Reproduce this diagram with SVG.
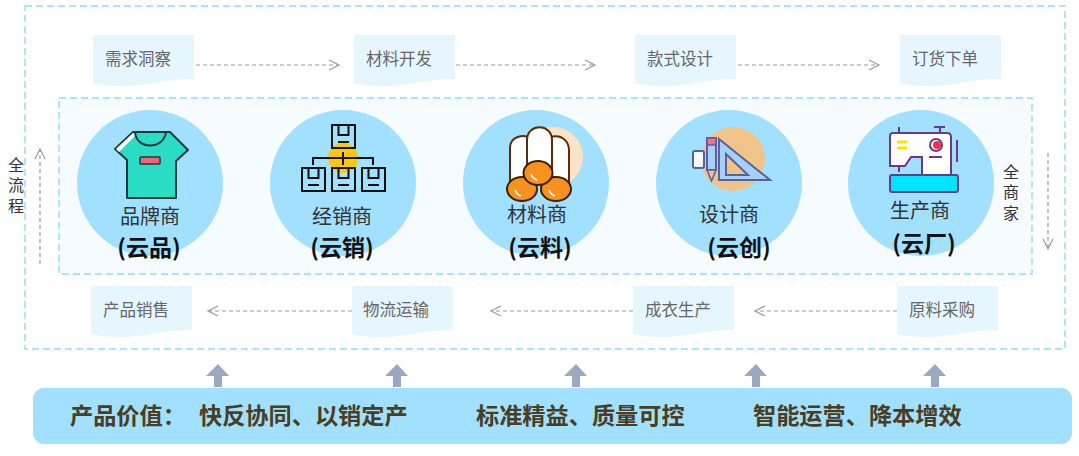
<svg xmlns="http://www.w3.org/2000/svg" width="1079" height="456" viewBox="0 0 1079 456">
<style>
text{font-family:"Noto Sans CJK SC","Liberation Sans",sans-serif}
.frame{stroke:#a8e3ff;stroke-width:1.8;stroke-dasharray:7 4}
.doc{fill:#e6f6fe}
.step{font-size:16.500px;fill:#666;text-anchor:middle}
.circle{fill:#a2e0ff}
.name{font-size:20px;fill:#333;text-anchor:middle}
.cloud{font-size:23px;font-weight:700;fill:#111;text-anchor:middle}
.side{font-size:16px;fill:#333;writing-mode:vertical-rl;letter-spacing:4.300px}
.flow{fill:none;stroke:#999;stroke-width:1.2;stroke-dasharray:4 3}
.head{fill:none;stroke:#999;stroke-width:1.2}
.up{fill:#9aa9c2}
.val{font-size:23.200px;font-weight:700;fill:#4a3d22}
.k{stroke:#111;stroke-width:2;fill:none}
</style>
<defs>
<path id="doc" d="M0 0H101V44C70 44 55 51 30 51C15 51 8 50 0 48Z" class="doc"/>
<g id="box"><rect width="23" height="23" fill="none" stroke="#111" stroke-width="2"/><path d="M6.500 0V10H16.500V0M6 17H17" fill="none" stroke="#111" stroke-width="2"/></g>
</defs>
<rect class="frame" x="25" y="6" width="1040" height="343" fill="none"/>
<rect class="frame" x="59" y="98" width="973" height="176" fill="#f5fbff"/>

<g id="connectors">
<path class="flow" d="M196 65H338"/><path class="head" d="M329 60L339 65L329 70"/>
<path class="flow" d="M456 65H594"/><path class="head" d="M585 60L595 65L585 70"/>
<path class="flow" d="M738 65H878"/><path class="head" d="M869 60L879 65L869 70"/>
<path class="flow" d="M1048 153V248"/><path class="head" d="M1043 239L1048 249L1053 239"/>
<path class="flow" d="M897 311H756"/><path class="head" d="M765 306L755 311L765 316"/>
<path class="flow" d="M633 311H492"/><path class="head" d="M501 306L491 311L501 316"/>
<path class="flow" d="M352 311H209"/><path class="head" d="M218 306L208 311L218 316"/>
<path class="flow" d="M40 264V150"/><path class="head" d="M35 159L40 149L45 159"/>
</g>

<g id="step-1"><use href="#doc" x="93" y="35"/><text class="step" x="138" y="65">需求洞察</text></g>
<g id="step-2"><use href="#doc" x="354" y="35"/><text class="step" x="399" y="65">材料开发</text></g>
<g id="step-3"><use href="#doc" x="635" y="35"/><text class="step" x="680" y="65">款式设计</text></g>
<g id="step-4"><use href="#doc" x="900" y="35"/><text class="step" x="945" y="65">订货下单</text></g>
<g id="step-5"><use href="#doc" x="897" y="286"/><text class="step" x="942" y="316">原料采购</text></g>
<g id="step-6"><use href="#doc" x="633" y="286"/><text class="step" x="678" y="316">成衣生产</text></g>
<g id="step-7"><use href="#doc" x="352" y="286"/><text class="step" x="396" y="316">物流运输</text></g>
<g id="step-8"><use href="#doc" x="91" y="286"/><text class="step" x="136" y="316">产品销售</text></g>

<g id="brand">
<circle class="circle" cx="150" cy="183" r="73"/>
<path d="M133 132H170L188 150L176 161V198H127V160L115 149Z" fill="#2bdcc4" stroke="#1c3a3a" stroke-width="2" stroke-linejoin="round"/>
<path d="M116 149L133 133L136 135L119 152Z" fill="#fff"/>
<path d="M135 132C136 150 164 150 166 132" fill="none" stroke="#1c3a3a" stroke-width="2"/>
<rect x="140" y="157" width="20" height="7" rx="1" fill="#f2647a" stroke="#1c3a3a" stroke-width="1.500"/>
<text class="name" x="150" y="224">品牌商</text>
<text class="cloud" x="149" y="256">(云品)</text>
</g>
<g id="dealer">
<circle class="circle" cx="343" cy="183" r="73"/>
<circle cx="343" cy="158" r="15" fill="#fec902"/>
<use href="#box" x="332" y="125"/><use href="#box" x="302" y="168"/><use href="#box" x="332" y="168"/><use href="#box" x="362" y="168"/>
<path class="k" d="M313 165V158H373V165M343 152V165"/>
<text class="name" x="342" y="224">经销商</text>
<text class="cloud" x="342" y="256">(云销)</text>
</g>
<g id="material">
<circle class="circle" cx="536" cy="183" r="73"/>
<circle cx="553" cy="157" r="30" fill="#fde3c6"/>
<g fill="#fff" stroke="#5b2c0a" stroke-width="2">
<path d="M510 188V148C510 136 524 134 530 138V180Z"/>
<path d="M550 137C565 133 569 145 569 150V186L550 175Z"/>
<path d="M527 170V140C527 123 552 123 552 140V170Z"/>
</g>
<g fill="#f7921e" stroke="#3a2008" stroke-width="2">
<ellipse cx="522" cy="189" rx="15" ry="12"/><ellipse cx="556" cy="189" rx="15" ry="12"/><ellipse cx="538" cy="173" rx="14.500" ry="12"/>
</g>
<path d="M515 190Q517 195 521 196M549 190Q551 195 555 196M531 174Q533 179 537 180" fill="none" stroke="#fff" stroke-width="1.500"/>
<text class="name" x="537" y="222">材料商</text>
<text class="cloud" x="540" y="256">(云料)</text>
</g>
<g id="designer">
<circle class="circle" cx="729" cy="183" r="73"/>
<circle cx="733" cy="159" r="32" fill="#f0c388"/>
<path d="M719 139L770 180H719Z" fill="#a5d1f5" stroke="#5a5fa0" stroke-width="2"/>
<path d="M726 154L748 175H726Z" fill="#f0c388" stroke="#5a5fa0" stroke-width="2"/>
<rect x="707" y="138" width="9" height="32" fill="#a5d1f5" stroke="#5a5fa0" stroke-width="2"/>
<rect x="707" y="138" width="9" height="7" fill="#f2708a" stroke="#5a5fa0" stroke-width="1.500"/>
<path d="M707 170L711.500 181L716 170Z" fill="#f0c388" stroke="#5a5fa0" stroke-width="1.500"/>
<rect x="693" y="151" width="11" height="17" rx="2" fill="#f4f8ff" stroke="#5a5fa0" stroke-width="2"/>
<text class="name" x="729" y="222">设计商</text>
<text class="cloud" x="739" y="256">(云创)</text>
</g>
<g id="maker">
<circle class="circle" cx="921" cy="183" r="73"/>
<path d="M893 133H947Q951 133 951 137V175H922V157H911L905 166H890V136Q890 133 893 133Z" fill="#fff" stroke="#6b3a87" stroke-width="2"/>
<rect x="890" y="175" width="68" height="17" rx="2" fill="#00e5ff" stroke="#6b3a87" stroke-width="2"/>
<path d="M899 127V133M899 166V172M940 127V133M934 127H945M957 140V162M929 157H942" fill="none" stroke="#6b3a87" stroke-width="2"/>
<path d="M897 142H907M897 148H907" stroke="#fde400" stroke-width="3"/>
<circle cx="936" cy="145" r="6" fill="#fff" stroke="#6b3a87" stroke-width="2"/>
<circle cx="937" cy="145" r="4" fill="#f0305a"/>
<text class="name" x="920" y="218">生产商</text>
<text class="cloud" x="924" y="252">(云厂)</text>
</g>

<g id="label-all-process"><text class="side" x="16" y="157">全流程</text></g>
<g id="label-all-merchant"><text class="side" x="1011" y="164">全商家</text></g>

<g id="value-arrows">
<path class="up" d="M218 364L229 376H222V387H214V376H206Z"/>
<path class="up" d="M397 364L408 376H401V387H393V376H385Z"/>
<path class="up" d="M576 364L587 376H580V387H572V376H564Z"/>
<path class="up" d="M756 364L767 376H760V387H752V376H744Z"/>
<path class="up" d="M935 364L946 376H939V387H931V376H923Z"/>
</g>
<g id="value-bar">
<rect x="33" y="388" width="1039" height="56" rx="11" fill="#a2e0ff"/>
<text class="val" x="70" y="424">产品价值：</text>
<text class="val" x="199" y="424">快反协同、以销定产</text>
<text class="val" x="476" y="424">标准精益、质量可控</text>
<text class="val" x="753" y="424">智能运营、降本增效</text>
</g>
</svg>
